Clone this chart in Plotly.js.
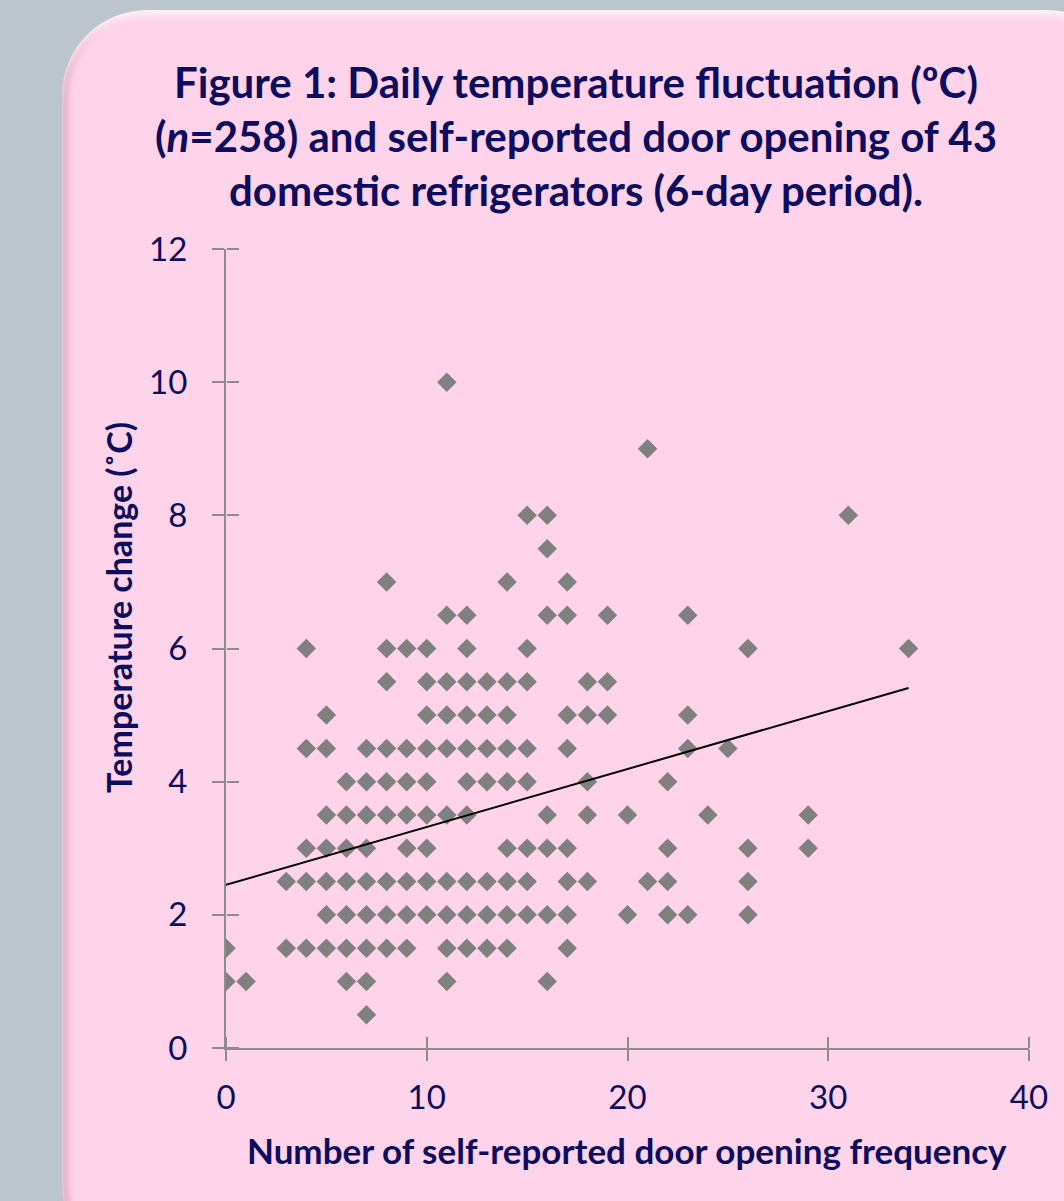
<!DOCTYPE html>
<html>
<head>
<meta charset="utf-8">
<script src="https://cdn.plot.ly/plotly-3.0.1.min.js"></script>
<style>
  html, body { margin: 0; padding: 0; width: 1064px; height: 1201px; overflow: hidden; background: #BCC4CE; }
  #card {
    position: absolute; left: 62px; top: 10px; width: 1070px; height: 1260px;
    background: #FFD3E9; border-radius: 85px;
    box-shadow: inset 0 5px 6px rgba(255,255,255,0.85), inset 5px 0 6px rgba(170,100,130,0.45);
  }
  #chart { position: absolute; left: 0; top: 0; width: 1064px; height: 1201px; }
</style>
</head>
<body>
<div id="card"></div>
<div id="chart"></div>
<script>
// Temperature change levels (°C) and the door-opening counts observed at each level
const tempLevels = [10, 9, 8, 7.5, 7, 6.5, 6, 5.5, 5, 4.5, 4, 3.5, 3, 2.5, 2, 1.5, 1, 0.5];
const doorAtLevel = [
  [11],
  [21],
  [15, 16, 31],
  [16],
  [8, 14, 17],
  [11, 12, 16, 17, 19, 23],
  [4, 8, 9, 10, 12, 15, 26, 34],
  [8, 10, 11, 12, 13, 14, 15, 18, 19],
  [5, 10, 11, 12, 13, 14, 17, 18, 19, 23],
  [4, 5, 7, 8, 9, 10, 11, 12, 13, 14, 15, 17, 23, 25],
  [6, 7, 8, 9, 10, 12, 13, 14, 15, 18, 22],
  [5, 6, 7, 8, 9, 10, 11, 12, 16, 18, 20, 24, 29],
  [4, 5, 6, 7, 9, 10, 14, 15, 16, 17, 22, 26, 29],
  [3, 4, 5, 6, 7, 8, 9, 10, 11, 12, 13, 14, 15, 17, 18, 21, 22, 26],
  [5, 6, 7, 8, 9, 10, 11, 12, 13, 14, 15, 16, 17, 20, 22, 23, 26],
  [0, 3, 4, 5, 6, 7, 8, 9, 11, 12, 13, 14, 17],
  [0, 1, 6, 7, 11, 16],
  [7]
];
// Linear trend line
const trendIntercept = 2.45;
const trendSlope = 0.087;

const xTicks = [0, 10, 20, 30, 40];
const yTicks = [0, 2, 4, 6, 8, 10, 12];

const titleLines = [
  "Figure 1: Daily temperature fluctuation (ºC)",
  "(<i>n</i>=258) and self-reported door opening of 43",
  "domestic refrigerators (6-day period)."
];
const xTitle = "Number of self-reported door opening frequency";
const yTitle = "Temperature change (˚C)";

const xs = [], ys = [];
tempLevels.forEach((t, i) => doorAtLevel[i].forEach(d => { xs.push(d); ys.push(t); }));
const xMin = Math.min(...xs), xMax = Math.max(...xs);

const navy = "#0C0C60";
const axisGray = "#8C8C8C";
const fontFam = "Lato, 'Open Sans', sans-serif";

const traces = [
  {
    x: xs, y: ys, type: "scatter", mode: "markers",
    marker: { symbol: "diamond", size: 15, color: "#808080" },
    hoverinfo: "x+y", showlegend: false
  },
  {
    x: [xMin, xMax], y: [trendIntercept + trendSlope * xMin, trendIntercept + trendSlope * xMax],
    type: "scatter", mode: "lines", line: { color: "#000000", width: 2 },
    xaxis: "x2", yaxis: "y2", showlegend: false, hoverinfo: "skip"
  }
];

const annotations = titleLines.map((t, i) => ({
  text: "<b>" + t + "</b>", xref: "paper", yref: "paper",
  x: (576 - 226) / 803, y: (1048 - (82 + i * 54)) / 799,
  xanchor: "center", yanchor: "middle", showarrow: false,
  font: { family: fontFam, size: 42, color: navy }
}));
annotations.push({
  text: "<b>" + xTitle + "</b>", xref: "paper", yref: "paper",
  x: (627 - 226) / 803, y: (1048 - 1150) / 799, xanchor: "center", yanchor: "middle",
  showarrow: false, font: { family: fontFam, size: 35, color: navy }
});
annotations.push({
  text: "<b>" + yTitle + "</b>", xref: "paper", yref: "paper", textangle: -90,
  x: (118 - 226) / 803, y: (1048 - 607) / 799, xanchor: "center", yanchor: "middle",
  showarrow: false, font: { family: fontFam, size: 34, color: navy }
});

const layout = {
  width: 1064, height: 1201,
  paper_bgcolor: "rgba(0,0,0,0)", plot_bgcolor: "rgba(0,0,0,0)",
  margin: { l: 226, r: 35, t: 249, b: 153 },
  showlegend: false,
  xaxis: {
    range: [0, 40], tickvals: xTicks, ticktext: xTicks.map(String),
    showgrid: false, zeroline: false, showline: true, linecolor: axisGray, linewidth: 2,
    ticks: "outside", ticklen: 11, tickwidth: 2, tickcolor: axisGray,
    tickfont: { family: fontFam, size: 33, color: navy }, ticklabelstandoff: 8,
    fixedrange: true
  },
  yaxis: {
    range: [0, 12], tickvals: yTicks, ticktext: yTicks.map(String),
    showgrid: false, zeroline: false, showline: true, linecolor: axisGray, linewidth: 2,
    ticks: "outside", ticklen: 12, tickwidth: 2, tickcolor: axisGray,
    tickfont: { family: fontFam, size: 33, color: navy }, ticklabelstandoff: 18,
    fixedrange: true
  },
  xaxis2: {
    overlaying: "x", side: "top", anchor: "free", position: 0, range: [0, 40], tickvals: xTicks,
    showticklabels: false, showgrid: false, zeroline: false, showline: false,
    ticks: "outside", ticklen: 11, tickwidth: 2, tickcolor: axisGray, fixedrange: true
  },
  yaxis2: {
    overlaying: "y", side: "right", anchor: "free", position: 0, range: [0, 12], tickvals: yTicks,
    showticklabels: false, showgrid: false, zeroline: false, showline: false,
    ticks: "outside", ticklen: 12, tickwidth: 2, tickcolor: axisGray, fixedrange: true
  },
  annotations: annotations
};

Plotly.newPlot("chart", traces, layout, { displayModeBar: false, staticPlot: true });
</script>
</body>
</html>
